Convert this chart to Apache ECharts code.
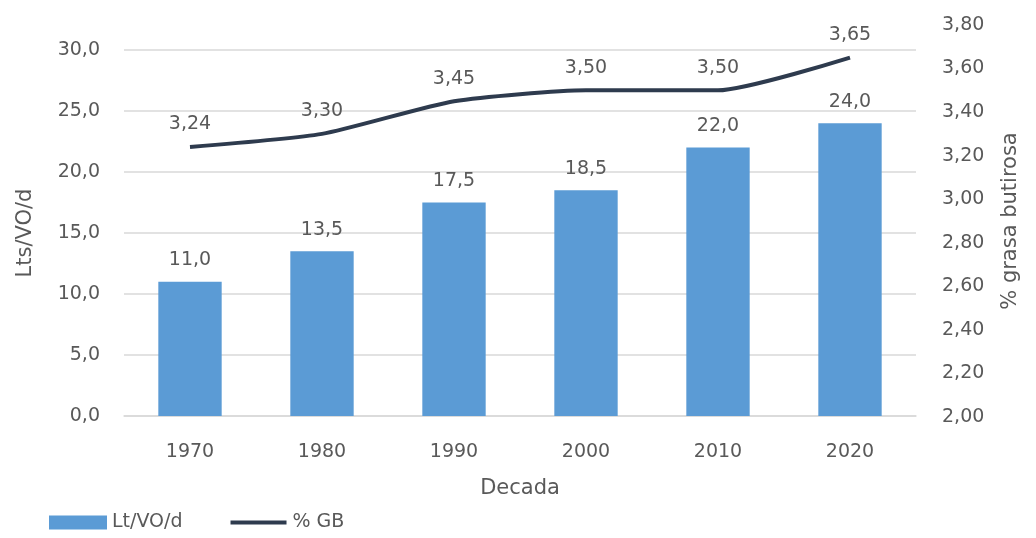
<!DOCTYPE html>
<html>
<head>
<meta charset="utf-8">
<script src="https://cdn.jsdelivr.net/npm/echarts@6/dist/echarts.min.js"></script>
<style>
  html, body { margin: 0; padding: 0; background: #fff; }
  #chart { width: 1036px; height: 538px; }
</style>
</head>
<body>
<div id="chart"></div>
<script>
// datos
const decades = ['1970', '1980', '1990', '2000', '2010', '2020'];
const litros = [11.0, 13.5, 17.5, 18.5, 22.0, 24.0];
const grasa = [3.24, 3.30, 3.45, 3.50, 3.50, 3.65];

const txt = '#595959';
const lineColor = '#2e3b4e';
const font = 'DejaVu Sans';
const fs = 19;
const comma = (v, d) => v.toFixed(d).replace('.', ',');

const chart = echarts.init(document.getElementById('chart'));
chart.setOption({
  animation: false,
  textStyle: { fontFamily: font, color: txt },
  legend: {
    left: 44, bottom: 1,
    itemWidth: 58, itemHeight: 14, itemGap: 48,
    textStyle: { fontSize: fs, color: txt, fontFamily: font },
    data: [
      { name: 'Lt/VO/d', icon: 'rect' },
      // linea fina sin marcador
      { name: '% GB', icon: 'path://M0,0 M0,14 M0,5 L56,5 L56,9 L0,9 Z', itemStyle: { color: lineColor } }
    ]
  },
  grid: [
    { left: 124, right: 120, top: 50, bottom: 122 },
    { left: 124, right: 120, top: 25, bottom: 121 }
  ],
  xAxis: [
    {
      type: 'category', gridIndex: 0, data: decades,
      name: 'Decada', nameLocation: 'middle', nameGap: 62,
      nameTextStyle: { fontSize: 21, color: txt },
      axisLine: { lineStyle: { color: '#d9d9d9', width: 1.5 } },
      axisTick: { show: false },
      axisLabel: { fontSize: fs, color: txt, margin: 27 }
    },
    {
      type: 'category', gridIndex: 1, data: decades, show: false
    }
  ],
  yAxis: [
    {
      type: 'value', gridIndex: 0, min: 0, max: 30, interval: 5,
      name: 'Lts/VO/d', nameLocation: 'middle', nameGap: 88,
      nameTextStyle: { fontSize: 21, color: txt },
      axisLine: { show: false }, axisTick: { show: false },
      axisLabel: { fontSize: fs, color: txt, margin: 24, formatter: v => comma(v, 1) },
      splitLine: { lineStyle: { color: '#d9d9d9', width: 1.5 } }
    },
    {
      type: 'value', gridIndex: 1, position: 'right', min: 2.0, max: 3.8, interval: 0.2,
      name: '% grasa butirosa', nameLocation: 'middle', nameGap: 84, nameRotate: 90,
      nameTextStyle: { fontSize: 21, color: txt },
      axisLine: { show: false }, axisTick: { show: false },
      axisLabel: { fontSize: fs, color: txt, margin: 26, formatter: v => comma(v, 2) },
      splitLine: { show: false }
    }
  ],
  series: [
    {
      name: 'Lt/VO/d', type: 'bar', xAxisIndex: 0, yAxisIndex: 0,
      data: litros, barWidth: '48%',
      itemStyle: { color: '#5b9bd5' },
      label: { show: true, position: 'top', distance: 12, fontSize: fs, color: txt, formatter: p => comma(p.value, 1) }
    },
    {
      name: '% GB', type: 'line', xAxisIndex: 1, yAxisIndex: 1,
      data: grasa, symbol: 'none', smooth: 0.2,
      lineStyle: { color: lineColor, width: 4 },
      itemStyle: { color: lineColor }
    },
    {
      // etiquetas de la linea
      name: 'gb-labels', type: 'scatter', xAxisIndex: 1, yAxisIndex: 1,
      data: grasa, symbolSize: 0, silent: true,
      itemStyle: { opacity: 1, color: lineColor },
      label: { show: true, position: 'top', distance: 13, fontSize: fs, color: txt, formatter: p => comma(p.value, 2) }
    }
  ]
});
</script>
</body>
</html>
